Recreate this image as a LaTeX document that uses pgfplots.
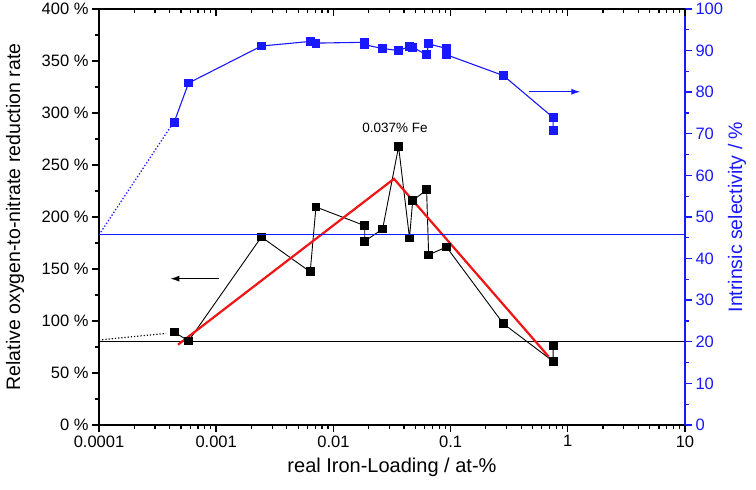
\documentclass[border=0pt]{standalone}
\usepackage{pgfplots}
\pgfplotsset{compat=1.18}
\usepackage{fontspec}
\setmainfont{Liberation Sans}
\usetikzlibrary{arrows.meta}
\definecolor{myblue}{RGB}{25,25,255}
\definecolor{myred}{RGB}{240,20,20}
\begin{document}
\begin{tikzpicture}[font=\fontsize{16.5}{19}\selectfont]
\path[use as bounding box] (-99pt,-65pt) rectangle (657pt,425pt);
% main axis (left, bottom)
\begin{axis}[
  scale only axis, width=586pt, height=416pt,
  xmode=log, xmin=1e-4, xmax=10,
  ymin=0, ymax=400,
  /pgf/number format/assume math mode=true,
  clip=false,
  major tick length=7pt, minor tick length=4pt,
  xtick={1e-4,1e-3,1e-2,1e-1,1,10},
  minor xtick={2e-4,3e-4,4e-4,5e-4,6e-4,7e-4,8e-4,9e-4,2e-3,3e-3,4e-3,5e-3,6e-3,7e-3,8e-3,9e-3,0.02,0.03,0.04,0.05,0.06,0.07,0.08,0.09,0.2,0.3,0.4,0.5,0.6,0.7,0.8,0.9,2,3,4,5,6,7,8,9},
  axis line style={line width=1.6pt},
  tick style={line width=1.4pt, black},
  minor tick style={line width=1.2pt, black},
  tick align=outside,
  xtick pos=left, ytick pos=left,
  xticklabels={0.0001,0.001,0.01,0.1,1,10},
  ytick={0,50,...,400},
  minor y tick num=1,
  yticklabel={\pgfmathprintnumber{\tick}~\%},
  xlabel={real Iron-Loading / at-\%},
  ylabel={Relative oxygen-to-nitrate reduction rate},
  xlabel style={at={(axis description cs:0.5,-0.101)}, anchor=center, font=\fontsize{20}{23}\selectfont},
  ylabel style={at={(axis description cs:-0.143,0.5)}, anchor=center, font=\fontsize{19.5}{22}\selectfont},
]
\addplot[black, line width=1pt] coordinates {(1e-4,80) (10,80)};
\addplot[black, line width=1.2pt, dotted] coordinates {(1e-4,81.7) (3.74e-4,88.1)};
\addplot[black, line width=0.9pt, mark=square*, mark size=3.9pt, mark options={solid}] coordinates {
(4.38e-4,89.4) (5.81e-4,80.8) (2.43e-3,180.8) (6.34e-3,147.3) (7.1e-3,209.6)
(0.0185,191.7) (0.0185,176.7) (0.0263,188.5) (0.036,267.6) (0.0446,179.9)
(0.0475,215.7) (0.0624,226.2) (0.065,163.6) (0.0922,171.2) (0.282,97.4)
(0.75,61.2) (0.75,76.3)};
\addplot[myred, line width=2.2pt] coordinates {(4.72e-4,77.2) (0.0329,236.7) (0.687,65.7)};
\addplot[black, line width=1.2pt, -{Latex[length=9pt,width=6pt]}] coordinates {(1.06e-3,140.7) (4.06e-4,140.7)};
\node[font=\fontsize{13.5}{16}\selectfont] at (axis cs:0.0336,285.6) {0.037\% Fe};
\end{axis}
% right axis
\begin{axis}[
  scale only axis, width=586pt, height=416pt,
  xmode=log, xmin=1e-4, xmax=10,
  ymin=0, ymax=100,
  /pgf/number format/assume math mode=true,
  clip=false,
  major tick length=7pt, minor tick length=4pt,
  axis x line=none,
  axis y line*=right,
  axis line style={line width=1.6pt, myblue, -},
  tick style={line width=1.4pt, myblue},
  minor tick style={line width=1.2pt, myblue},
  tick align=outside,
  ytick={0,10,...,100},
  minor y tick num=1,
  yticklabel={\pgfmathprintnumber{\tick}},
  yticklabel style={myblue},
  ylabel={Intrinsic selectivity / \%},
  ylabel style={at={(axis description cs:1.0887,0.5)}, anchor=center, font=\fontsize{19.5}{22}\selectfont, myblue},
]
\addplot[myblue, line width=1pt] coordinates {(1e-4,45.7) (10,45.7)};
\addplot[myblue, line width=1.3pt, dotted] coordinates {(1e-4,45.7) (4.2e-4,72.2)};
\addplot[myblue, line width=1.1pt, mark=square*, mark size=3.9pt, mark options={solid}] coordinates {
(4.38e-4,72.8) (5.81e-4,82.2) (2.43e-3,91.1) (6.34e-3,92.2) (7.1e-3,91.8)
(0.0185,92.0) (0.0185,91.4) (0.0263,90.5) (0.036,90.0) (0.0446,91.0)
(0.0475,90.8) (0.0624,89.0) (0.065,91.6) (0.0922,90.5) (0.0922,89.0)
(0.282,84.0) (0.75,73.9) (0.75,70.7)};
\addplot[myblue, line width=1.2pt, -{Latex[length=9pt,width=6pt]}] coordinates {(0.468,80.1) (1.28,80.1)};
\end{axis}
% top ticks (inside)
\begin{axis}[
  scale only axis, width=586pt, height=416pt,
  xmode=log, xmin=1e-4, xmax=10,
  ymin=0, ymax=1,
  major tick length=7pt, minor tick length=4pt,
  xtick={1e-4,1e-3,1e-2,1e-1,1,10},
  minor xtick={2e-4,3e-4,4e-4,5e-4,6e-4,7e-4,8e-4,9e-4,2e-3,3e-3,4e-3,5e-3,6e-3,7e-3,8e-3,9e-3,0.02,0.03,0.04,0.05,0.06,0.07,0.08,0.09,0.2,0.3,0.4,0.5,0.6,0.7,0.8,0.9,2,3,4,5,6,7,8,9},
  axis y line=none,
  axis x line*=top,
  axis line style={line width=1.6pt, black, -},
  tick style={line width=1.4pt, black},
  minor tick style={line width=1.2pt, black},
  tick align=inside,
  xticklabels={},
]
\end{axis}
\end{tikzpicture}
\end{document}
